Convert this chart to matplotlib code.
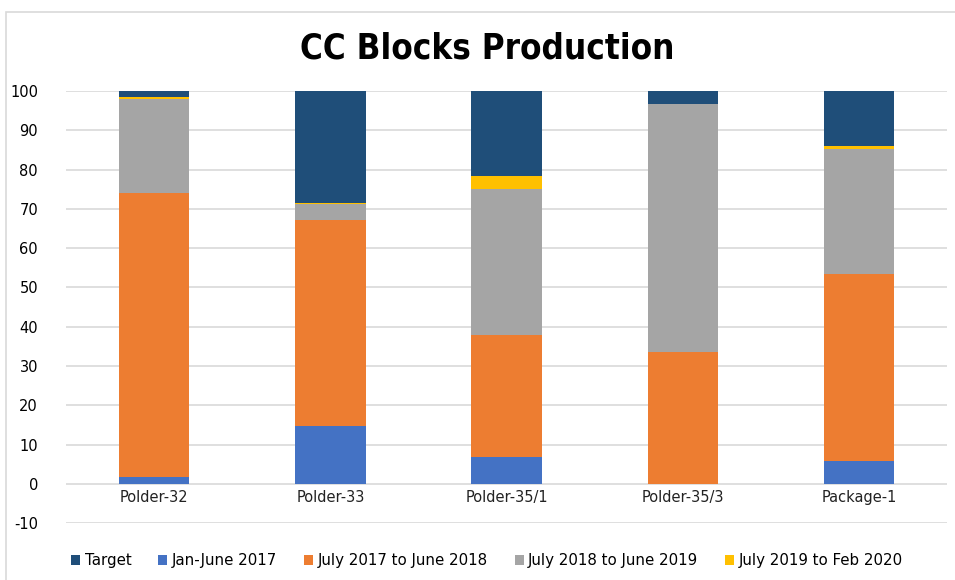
import matplotlib
matplotlib.use("Agg")
import matplotlib.pyplot as plt
from matplotlib.patches import Rectangle
import numpy as np

plt.rcParams["axes.unicode_minus"] = False

categories = ["Polder-32", "Polder-33", "Polder-35/1", "Polder-35/3", "Package-1"]
jan_june_2017 = [1.8, 14.7, 6.9, 0.0, 5.9]
jul17_jun18 = [72.2, 52.6, 31.0, 33.5, 47.5]
jul18_jun19 = [24.0, 3.9, 37.1, 63.2, 31.8]
jul19_feb20 = [0.5, 0.3, 3.4, 0.0, 0.9]
target = [1.5, 28.5, 21.6, 3.3, 13.9]

series = [
    ("Jan-June 2017", jan_june_2017, "#4472C4"),
    ("July 2017 to June 2018", jul17_jun18, "#ED7D31"),
    ("July 2018 to June 2019", jul18_jun19, "#A5A5A5"),
    ("July 2019 to Feb 2020", jul19_feb20, "#FFC000"),
    ("Target", target, "#1F4E79"),
]

fig = plt.figure(figsize=(9.55, 5.8), dpi=100)
fig.patches.append(Rectangle((0.006, -0.01), 1.2, 0.99, transform=fig.transFigure,
                             fill=False, edgecolor="#D9D9D9", linewidth=1.2))
ax = fig.add_axes([0.069, 0.098, 0.923, 0.745])

x = np.arange(len(categories))
bottom = np.zeros(len(categories))
handles = {}
for name, vals, col in series:
    b = ax.bar(x, vals, width=0.4, bottom=bottom, color=col, label=name, zorder=3)
    handles[name] = b
    bottom += np.array(vals)

ax.set_xlim(-0.5, 4.5)
ax.set_ylim(-10, 100)
ax.set_yticks(np.arange(-10, 101, 10))
ax.yaxis.grid(True, color="#D9D9D9", linewidth=1.2, zorder=0)
for s in ax.spines.values():
    s.set_visible(False)
ax.tick_params(axis="y", length=0, labelsize=10.5, pad=20)
ax.set_xticks([])
for i, c in enumerate(categories):
    ax.text(i, -1.6, c, ha="center", va="top", fontsize=10.5, color="#222222")

fig.text(0.51, 0.917, "CC Blocks Production", ha="center", va="center",
         fontsize=25, fontweight="bold", family="DejaVu Sans", fontstretch="condensed")

order = ["Target", "Jan-June 2017", "July 2017 to June 2018", "July 2018 to June 2019", "July 2019 to Feb 2020"]
fig.legend([handles[n] for n in order], order, loc="center", bbox_to_anchor=(0.51, 0.033),
           ncol=5, frameon=False, fontsize=10.8, handlelength=0.6, handleheight=0.6,
           handletextpad=0.3, columnspacing=1.8)

fig.savefig("out.png", dpi=100)
